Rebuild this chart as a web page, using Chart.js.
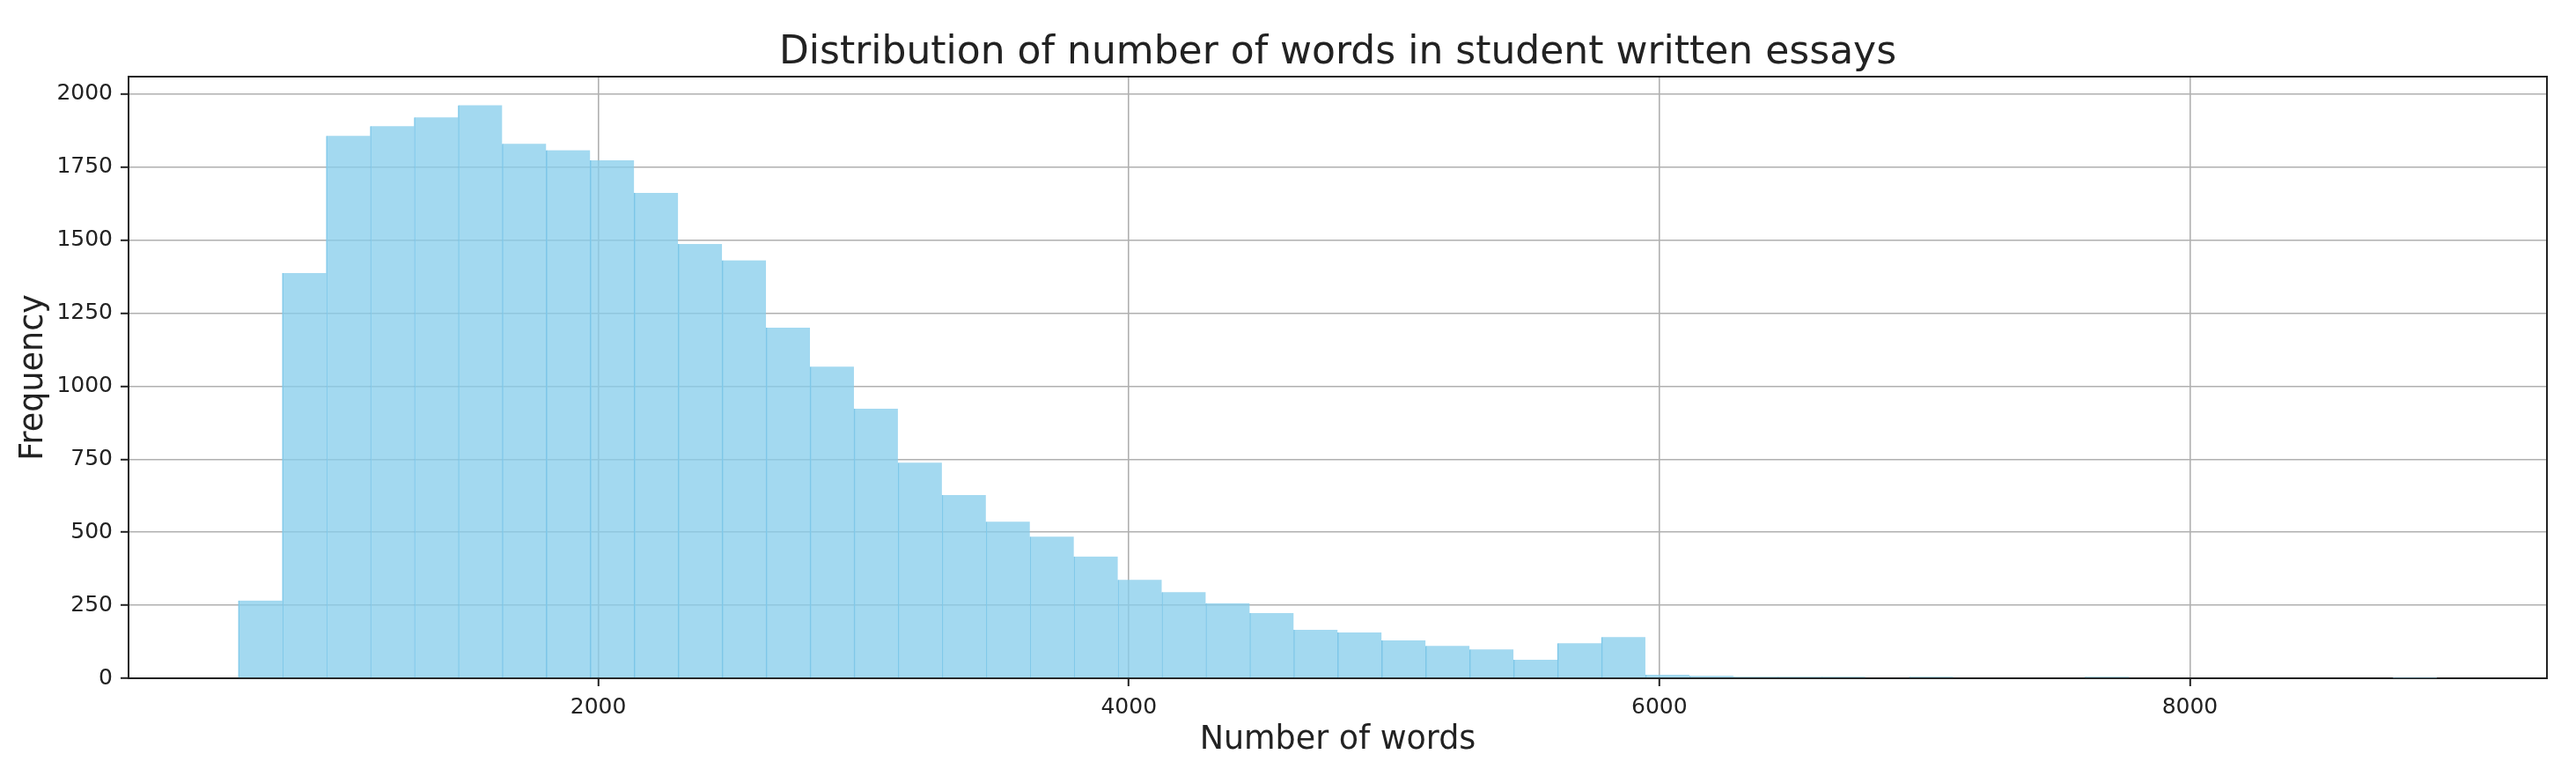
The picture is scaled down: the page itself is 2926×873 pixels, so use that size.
<!DOCTYPE html>
<html>
<head>
<meta charset="utf-8">
<script src="https://cdn.jsdelivr.net/npm/chart.js@4.4.1/dist/chart.umd.min.js"></script>
<style>
  html, body { margin: 0; padding: 0; background: #ffffff; }
  canvas { display: block; }
</style>
</head>
<body>
<canvas id="chart" width="2926" height="873"></canvas>
<script>
// ---- Data ----
const binEdges = [
  643.00, 808.76, 974.52, 1140.28, 1306.04, 1471.80, 1637.56, 1803.32, 1969.08, 2134.84,
  2300.60, 2466.36, 2632.12, 2797.88, 2963.64, 3129.40, 3295.16, 3460.92, 3626.68, 3792.44,
  3958.20, 4123.96, 4289.72, 4455.48, 4621.24, 4787.00, 4952.76, 5118.52, 5284.28, 5450.04,
  5615.80, 5781.56, 5947.32, 6113.08, 6278.84, 6444.60, 6610.36, 6776.12, 6941.88, 7107.64,
  7273.40, 7439.16, 7604.92, 7770.68, 7936.44, 8102.20, 8267.96, 8433.72, 8599.48, 8765.24,
  8931.00
];
const frequencies = [
  266, 1387, 1857, 1890, 1920, 1962, 1830, 1808, 1773, 1662,
  1487, 1431, 1200, 1067, 923, 738, 627, 536, 485, 417,
  337, 295, 257, 223, 166, 157, 130, 111, 99, 63,
  120, 141, 12, 8, 5, 5, 5, 0, 5, 0,
  0, 0, 5, 0, 0, 0, 0, 0, 0, 1
];
const xTickValues = [2000, 4000, 6000, 8000];
const yTickValues = [0, 250, 500, 750, 1000, 1250, 1500, 1750, 2000];
const xRange = [229, 9346];
const yRange = [0, 2060];
const titleText = 'Distribution of number of words in student written essays';
const xLabelText = 'Number of words';
const yLabelText = 'Frequency';

// ---- Build chart ----
const points = frequencies.map((f, i) => ({ x: (binEdges[i] + binEdges[i + 1]) / 2, y: f }));

Chart.defaults.font.family = "'DejaVu Sans', sans-serif";
Chart.defaults.color = '#222222';

const gridColor = '#b0b0b0';
const spineColor = '#222222';

new Chart(document.getElementById('chart'), {
  type: 'bar',
  data: {
    datasets: [{
      data: points,
      backgroundColor: 'rgba(135, 206, 235, 0.77)',
      borderColor: 'rgba(125, 198, 232, 1)',
      borderWidth: { top: 0, right: 0, bottom: 0, left: 1 },
      borderSkipped: false,
      barPercentage: 1.0,
      categoryPercentage: 1.0
    }]
  },
  options: {
    responsive: false,
    animation: false,
    layout: { padding: 0 },
    plugins: {
      legend: { display: false },
      tooltip: { enabled: false },
      title: {
        display: true,
        text: titleText,
        fullSize: false,
        color: '#222222',
        font: { size: 44, weight: 'normal', lineHeight: 1.18 },
        padding: { top: 35, bottom: 0 }
      }
    },
    scales: {
      x: {
        type: 'linear',
        position: 'bottom',
        min: xRange[0],
        max: xRange[1],
        offset: false,
        z: 1,
        afterFit: s => { s.height = 103; },
        afterBuildTicks: s => { s.ticks = xTickValues.map(v => ({ value: v })); },
        grid: {
          offset: false,
          color: gridColor,
          lineWidth: 1.6,
          drawTicks: true,
          tickLength: 9,
          tickColor: spineColor,
          tickWidth: 2
        },
        border: { display: true, color: spineColor, width: 2 },
        ticks: {
          padding: 9,
          maxRotation: 0,
          autoSkip: false,
          font: { size: 25 },
          color: '#222222',
          callback: v => String(v)
        },
        title: {
          display: true,
          text: xLabelText,
          color: '#222222',
          font: { size: 36.5, lineHeight: 1.2 },
          padding: { top: 0, bottom: 11 }
        }
      },
      y: {
        type: 'linear',
        position: 'left',
        min: yRange[0],
        max: yRange[1],
        z: 1,
        afterFit: s => { s.width = 146; },
        afterBuildTicks: s => { s.ticks = yTickValues.map(v => ({ value: v })); },
        grid: {
          color: gridColor,
          lineWidth: 1.6,
          drawTicks: true,
          tickLength: 9,
          tickColor: spineColor,
          tickWidth: 2
        },
        border: { display: true, color: spineColor, width: 2 },
        ticks: {
          padding: 9,
          autoSkip: false,
          font: { size: 25 },
          color: '#222222',
          callback: v => String(v)
        },
        title: {
          display: true,
          text: yLabelText,
          color: '#222222',
          font: { size: 36.5, lineHeight: 1.2 },
          padding: { top: 16.3, bottom: 0 }
        }
      },
      xTop: {
        type: 'linear',
        position: 'top',
        min: xRange[0],
        max: xRange[1],
        z: 1,
        afterFit: s => { s.height = 0; },
        grid: { display: false, drawTicks: false },
        ticks: { display: false },
        border: { display: true, color: spineColor, width: 2 }
      },
      yRight: {
        type: 'linear',
        position: 'right',
        min: yRange[0],
        max: yRange[1],
        z: 1,
        afterFit: s => { s.width = 33; },
        grid: { display: false, drawTicks: false },
        ticks: { display: false },
        border: { display: true, color: spineColor, width: 2 }
      }
    }
  }
});
</script>
</body>
</html>
